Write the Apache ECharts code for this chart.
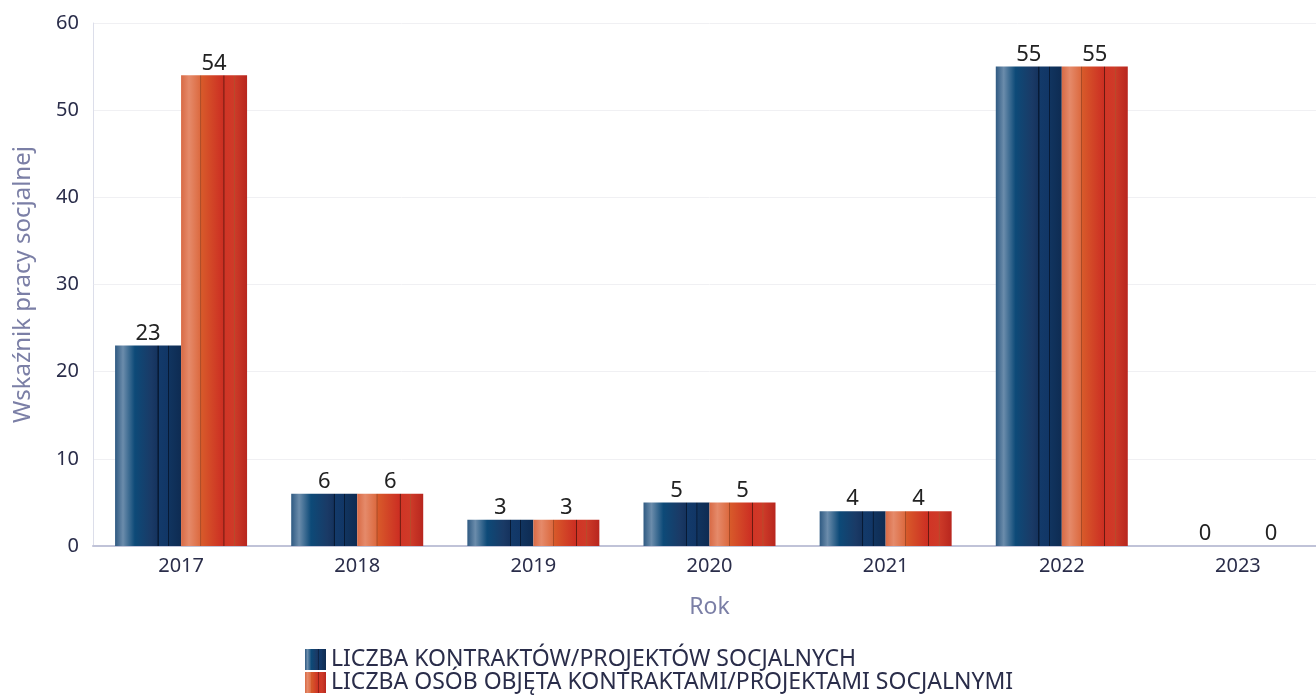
<!DOCTYPE html>
<html>
<head>
<meta charset="utf-8">
<script src="https://cdn.jsdelivr.net/npm/echarts@6/dist/echarts.min.js"></script>
<style>
  html, body { margin: 0; padding: 0; background: #fff; overflow: hidden; }
  #main { width: 1326px; height: 695px; }
</style>
</head>
<body>
<div id="main"></div>
<script>
// dane
const years = ["2017", "2018", "2019", "2020", "2021", "2022", "2023"];
const kontrakty = [23, 6, 3, 5, 4, 55, 0];
const osoby = [54, 6, 3, 5, 4, 55, 0];
const seriesNames = [
  "LICZBA KONTRAKTÓW/PROJEKTÓW SOCJALNYCH",
  "LICZBA OSÓB OBJĘTA KONTRAKTAMI/PROJEKTAMI SOCJALNYMI"
];

// gradient "walec" z ciemnymi pionowymi liniami
function stripes(stops) {
  return new echarts.graphic.LinearGradient(0, 0, 1, 0,
    stops.map(s => ({ offset: s[0], color: s[1] })));
}
const blueFill = stripes([
  [0, "#2f5a82"], [0.12, "#6b8cab"], [0.3, "#0d4a78"], [0.55, "#1a3a66"],
  [0.64, "#15335e"], [0.645, "#071a35"], [0.66, "#071a35"], [0.665, "#133a6a"],
  [0.8, "#113666"], [0.805, "#071a35"], [0.815, "#071a35"], [0.82, "#11345f"],
  [1, "#0e2b52"]
]);
const redFill = stripes([
  [0, "#d86a45"], [0.12, "#e58a6a"], [0.29, "#dc6a40"], [0.295, "#a84a26"],
  [0.305, "#a84a26"], [0.31, "#d85a2a"], [0.55, "#cf3a25"], [0.64, "#cc2e22"],
  [0.645, "#6a1a10"], [0.655, "#6a1a10"], [0.66, "#d03526"], [0.8, "#cf3a28"],
  [0.805, "#b84a2a"], [0.815, "#b84a2a"], [0.82, "#cc3a28"], [1, "#b8261e"]
]);

const chart = echarts.init(document.getElementById("main"));
const labelStyle = { show: true, position: "top", distance: 1, color: "#222", fontSize: 22, fontFamily: "Noto Sans" };
const legendText = { color: "#2a2d4a", fontSize: 23, fontFamily: "Noto Sans" };

chart.setOption({
  animation: false,
  textStyle: { fontFamily: "Noto Sans" },
  grid: { left: 93, right: 0, top: 23, bottom: 149, containLabel: false },
  legend: [
    {
      left: 300, top: 643, icon: "rect", itemWidth: 21, itemHeight: 21, itemGap: 0,
      textStyle: legendText, data: [seriesNames[0]]
    },
    {
      left: 300, top: 666, icon: "rect", itemWidth: 21, itemHeight: 21, itemGap: 0,
      textStyle: legendText, data: [seriesNames[1]]
    }
  ],
  xAxis: {
    type: "category",
    data: years,
    name: "Rok",
    nameLocation: "middle",
    nameGap: 50,
    nameTextStyle: { color: "#7b7fa6", fontSize: 23 },
    axisLine: { lineStyle: { color: "#c0c3d8", width: 2 } },
    axisTick: { show: false },
    axisLabel: { color: "#2a2d4a", fontSize: 20, margin: 10 }
  },
  yAxis: {
    type: "value",
    min: 0,
    max: 60,
    interval: 10,
    name: "Wskaźnik pracy socjalnej",
    nameLocation: "middle",
    nameGap: 58,
    nameTextStyle: { color: "#7b7fa6", fontSize: 24 },
    axisLine: { show: true, lineStyle: { color: "#dcdeea" } },
    axisTick: { show: false },
    axisLabel: { color: "#2a2d4a", fontSize: 20, margin: 14 },
    splitLine: { lineStyle: { color: "#f0f0f3" } }
  },
  series: [
    {
      name: seriesNames[0],
      type: "bar",
      data: kontrakty,
      barWidth: 66,
      barGap: "0%",
      itemStyle: { color: blueFill },
      label: labelStyle
    },
    {
      name: seriesNames[1],
      type: "bar",
      data: osoby,
      barWidth: 66,
      itemStyle: { color: redFill },
      label: labelStyle
    }
  ]
});
</script>
</body>
</html>
